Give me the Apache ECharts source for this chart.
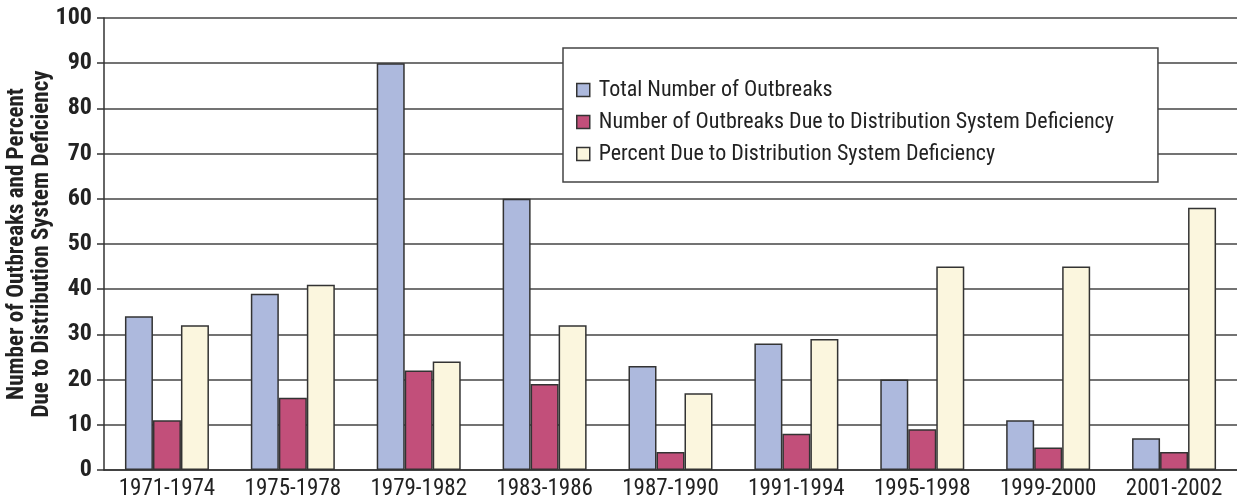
<!DOCTYPE html>
<html>
<head>
<meta charset="utf-8">
<script src="https://cdn.jsdelivr.net/npm/echarts@6/dist/echarts.min.js"></script>
<style>
    html, body { margin: 0; padding: 0; background: #fff; }
    #chart { width: 1237px; height: 499px; }
</style>
</head>
<body>
<div id="chart"></div>
<script>
// 数据
const periods = ['1971-1974', '1975-1978', '1979-1982', '1983-1986', '1987-1990', '1991-1994', '1995-1998', '1999-2000', '2001-2002'];
const totalOutbreaks = [34, 39, 90, 60, 23, 28, 20, 11, 7];
const deficiencyOutbreaks = [11, 16, 22, 19, 4, 8, 9, 5, 4];
const deficiencyPercent = [32, 41, 24, 32, 17, 29, 45, 45, 58];
const seriesNames = [
    'Total Number of Outbreaks',
    'Number of Outbreaks Due to Distribution System Deficiency',
    'Percent Due to Distribution System Deficiency'
];
const seriesColors = ['#adb9dd', '#c24f7a', '#fbf6de'];

const FONT = '"Liberation Sans Narrow", "Roboto Condensed", "DejaVu Sans Condensed", sans-serif';

let myChart = echarts.init(document.getElementById('chart'));

function barSeries(i, data) {
    return {
        name: seriesNames[i],
        type: 'bar',
        data: data,
        barWidth: 28,
        barGap: '0%',
        itemStyle: {
            color: seriesColors[i],
            borderColor: '#333',
            borderWidth: 1.5
        }
    };
}

let option = {
    animation: false,
    textStyle: { fontFamily: FONT },
    legend: {
        orient: 'vertical',
        left: 563,
        top: 48,
        padding: [31, 44, 17, 13],
        itemGap: 10,
        itemWidth: 13,
        itemHeight: 13,
        backgroundColor: '#fff',
        borderColor: '#444',
        borderWidth: 1.5,
        icon: 'rect',
        itemStyle: { borderColor: '#333', borderWidth: 1.5 },
        textStyle: { fontFamily: FONT, fontSize: 22, color: '#222', padding: [0, 0, 0, 4] },
        data: seriesNames
    },
    grid: {
        left: 104,
        right: 0,
        top: 18,
        bottom: 29,
        containLabel: false,
        outerBoundsMode: 'none'
    },
    xAxis: {
        type: 'category',
        data: periods,
        axisLine: { lineStyle: { color: '#333', width: 1.5 } },
        axisTick: { show: false },
        axisLabel: {
            interval: 0,
            margin: 8,
            fontFamily: FONT,
            fontSize: 23,
            color: '#222'
        }
    },
    yAxis: {
        type: 'value',
        min: 0,
        max: 100,
        interval: 10,
        name: 'Number of Outbreaks and Percent\nDue to Distribution System Deficiency',
        nameLocation: 'middle',
        nameGap: 49,
        nameMoveOverlap: false,
        nameRotate: 90,
        nameTextStyle: {
            fontFamily: FONT,
            fontWeight: 'bold',
            fontSize: 23,
            color: '#222',
            lineHeight: 25
        },
        axisLine: { show: true, lineStyle: { color: '#333', width: 1.5 } },
        axisTick: { show: true, length: 7, lineStyle: { color: '#333', width: 1.5 } },
        axisLabel: {
            margin: 12,
            fontFamily: FONT,
            fontWeight: 'bold',
            fontSize: 24,
            color: '#222'
        },
        splitLine: { lineStyle: { color: '#444', width: 1.5 } }
    },
    series: [
        barSeries(0, totalOutbreaks),
        barSeries(1, deficiencyOutbreaks),
        barSeries(2, deficiencyPercent)
    ]
};

myChart.setOption(option);
window.addEventListener('resize', function () {
    myChart.resize();
});
</script>
</body>
</html>
